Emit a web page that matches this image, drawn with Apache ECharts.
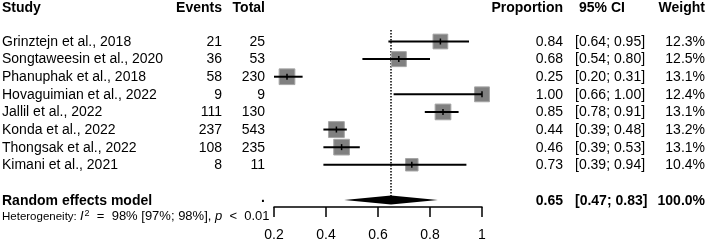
<!DOCTYPE html>
<html>
  <head>
    <title></title>
    <meta charset="UTF-8" />
    <script src="https://cdn.jsdelivr.net/npm/echarts@6/dist/echarts.min.js"></script>
    <style>
      body { margin: 0; background: #fff; }
    </style>
  </head>
  <body>
    <div id="main"></div>
    <script>
      const width = 707;
      const height = 242;
      const main = document.getElementById('main');
      main.style.width = `${width}px`;
      main.style.height = `${height}px`;

      // data
      const studies = ['Grinztejn et al., 2018', 'Songtaweesin et al., 2020', 'Phanuphak et al., 2018',
        'Hovaguimian et al., 2022', 'Jallil et al., 2022', 'Konda et al., 2022',
        'Thongsak et al., 2022', 'Kimani et al., 2021'];
      const events = [21, 36, 58, 9, 111, 237, 108, 8];
      const totals = [25, 53, 230, 9, 130, 543, 235, 11];
      const props = [0.84, 0.68, 0.25, 1.00, 0.85, 0.44, 0.46, 0.73];
      const lower = [0.64, 0.54, 0.20, 0.66, 0.78, 0.39, 0.39, 0.39];
      const upper = [0.95, 0.80, 0.31, 1.00, 0.91, 0.48, 0.53, 0.94];
      const weights = [12.3, 12.5, 13.1, 12.4, 13.1, 13.2, 13.1, 10.4];
      const pooled = [0.65, 0.47, 0.83];
      const xTicks = [0.2, 0.4, 0.6, 0.8, 1];

      const font = '"Liberation Sans", Arial, sans-serif';
      const fmt = v => v.toFixed(2);

      // table text, columns placed in pixel units of the full-width grid
      const HEAD = -1.92, POOL = 9, HET = 9.89;
      const cells = [];
      const cell = (x, row, text, align, bold) => cells.push({ x, row, text, align, bold });
      cell(2, HEAD, 'Study', 'left', true);
      cell(222, HEAD, 'Events', 'right', true);
      cell(265, HEAD, 'Total', 'right', true);
      cell(563, HEAD, 'Proportion', 'right', true);
      cell(579, HEAD, '95% CI', 'left', true);
      cell(705, HEAD, 'Weight', 'right', true);
      studies.forEach((s, i) => {
        cell(2, i, s, 'left');
        cell(222, i, String(events[i]), 'right');
        cell(265, i, String(totals[i]), 'right');
        cell(563, i, fmt(props[i]), 'right');
        cell(575, i, `[${fmt(lower[i])}; ${fmt(upper[i])}]`, 'left');
        cell(705, i, weights[i].toFixed(1) + '%', 'right');
      });
      cell(2, POOL, 'Random effects model', 'left', true);
      cell(563, POOL, fmt(pooled[0]), 'right', true);
      cell(575, POOL, `[${fmt(pooled[1])}; ${fmt(pooled[2])}]`, 'left', true);
      cell(705, POOL, '100.0%', 'right', true);
      cell(263, 8.85, '.', 'center', true);

      const myChart = echarts.init(main, null, { renderer: 'canvas' });
      const yCommon = { type: 'value', min: -2, max: 9.4, inverse: true, show: false };
      const option = {
        animation: false,
        grid: [
          { left: 274, right: 225, top: 6.3, bottom: 34 },
          { left: 0, right: 0, top: 6.3, bottom: 34 }
        ],
        xAxis: [
          {
            type: 'value', gridIndex: 0, min: 0.2, max: 1, interval: 0.2,
            splitLine: { show: false },
            axisLine: { onZero: false, lineStyle: { color: '#000', width: 1.5 } },
            axisTick: { length: 10, lineStyle: { color: '#000', width: 1.5 } },
            axisLabel: {
              margin: 21, color: '#000', fontSize: 14, fontFamily: font,
              formatter: v => String(xTicks.find(t => Math.abs(t - v) < 1e-9) ?? v)
            }
          },
          { type: 'value', gridIndex: 1, min: 0, max: width, show: false }
        ],
        yAxis: [
          Object.assign({ gridIndex: 0 }, yCommon),
          Object.assign({ gridIndex: 1 }, yCommon)
        ],
        series: [
          {
            type: 'line', xAxisIndex: 0, yAxisIndex: 0, symbol: 'none', silent: true,
            lineStyle: { color: '#000', width: 1.5, type: [1.5, 1.5] },
            data: [[pooled[0], -0.65], [pooled[0], POOL]],
            z: 1
          },
          {
            type: 'custom', xAxisIndex: 0, yAxisIndex: 0, z: 2,
            data: studies.map((s, i) => [props[i], i, lower[i], upper[i], weights[i]]),
            renderItem: (params, api) => {
              const row = api.value(1);
              const p = api.coord([api.value(0), row]);
              const lo = api.coord([api.value(2), row]);
              const hi = api.coord([api.value(3), row]);
              const s = api.value(4) * 1.2;
              return {
                type: 'group',
                children: [
                  { type: 'rect', shape: { x: p[0] - s / 2, y: p[1] - s / 2, width: s, height: s },
                    style: { fill: '#808080', stroke: '#a6a6a6', lineWidth: 1 } },
                  { type: 'line', shape: { x1: lo[0], y1: lo[1], x2: hi[0], y2: hi[1] },
                    style: { stroke: '#000', lineWidth: 2 } },
                  { type: 'line', shape: { x1: p[0], y1: p[1] - 3, x2: p[0], y2: p[1] + 3 },
                    style: { stroke: '#000', lineWidth: 1.5 } }
                ]
              };
            }
          },
          {
            type: 'custom', xAxisIndex: 0, yAxisIndex: 0, z: 3,
            data: [[pooled[0], POOL, pooled[1], pooled[2]]],
            renderItem: (params, api) => {
              const row = api.value(1);
              const c = api.coord([api.value(0), row]);
              const l = api.coord([api.value(2), row]);
              const r = api.coord([api.value(3), row]);
              return {
                type: 'polygon',
                shape: { points: [[l[0], c[1]], [c[0], c[1] - 4.5], [r[0], c[1]], [c[0], c[1] + 4.5]] },
                style: { fill: '#000' }
              };
            }
          },
          {
            type: 'custom', xAxisIndex: 1, yAxisIndex: 1, z: 4,
            data: cells.map((c, i) => [c.x, c.row, i]),
            renderItem: (params, api) => {
              const c = cells[api.value(2)];
              const pt = api.coord([api.value(0), api.value(1)]);
              return {
                type: 'text',
                x: pt[0], y: pt[1],
                style: {
                  text: c.text, fill: '#000', align: c.align, verticalAlign: 'middle',
                  font: `${c.bold ? 'bold ' : ''}14px ${font}`
                }
              };
            }
          },
          {
            type: 'custom', xAxisIndex: 1, yAxisIndex: 1, z: 4,
            data: [[2, HET]],
            renderItem: (params, api) => {
              const pt = api.coord([api.value(0), api.value(1)]);
              return {
                type: 'text',
                x: pt[0], y: pt[1],
                style: {
                  text: 'Heterogeneity: {i|I}{sup|2}{m|  =  98% [97%; 98%], }{i|p}{m|  <  0.01}',
                  fill: '#000', align: 'left', verticalAlign: 'middle',
                  fontSize: 11.5, fontFamily: font,
                  rich: {
                    i: { fontStyle: 'italic', fontSize: 13, fontFamily: font, fill: '#000' },
                    m: { fontSize: 13, fontFamily: font, fill: '#000' },
                    sup: { fontSize: 9, fontFamily: font, fill: '#000', padding: [0, 0, 7, 1] }
                  }
                }
              };
            }
          }
        ]
      };
      myChart.setOption(option);
    </script>
  </body>
</html>
